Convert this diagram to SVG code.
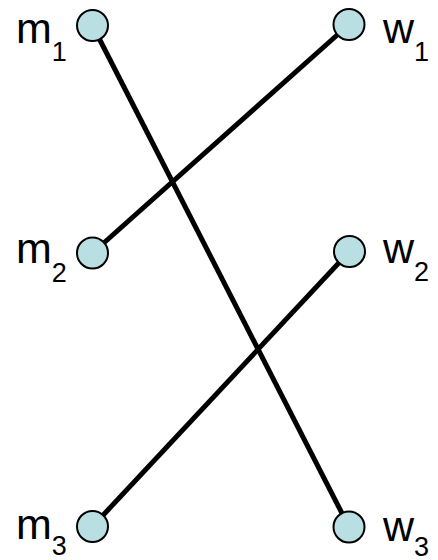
<svg xmlns="http://www.w3.org/2000/svg" width="438" height="560" viewBox="0 0 438 560">
<style>
.node circle{fill:#b9dfe3;stroke:#000;stroke-width:2}
.lbl{font-family:"Liberation Sans",Arial,sans-serif;font-size:43px;fill:#000}
.sub{font-size:27px}
.edge{stroke:#000;stroke-width:5;stroke-linecap:butt}
</style>
<rect width="438" height="560" fill="#fff"/>
<g id="connectors">
<line class="edge" x1="92.5" y1="25.5" x2="349" y2="527"/>
<line class="edge" x1="349" y1="24.5" x2="92.5" y2="253"/>
<line class="edge" x1="349.5" y1="251.5" x2="92.5" y2="526.5"/>
</g>
<g id="m1" class="node"><circle cx="92.5" cy="25.5" r="15.5"/><text class="lbl" x="16" y="43">m<tspan class="sub" dy="18">1</tspan></text></g>
<g id="m2" class="node"><circle cx="92.5" cy="253" r="15.5"/><text class="lbl" x="16" y="263">m<tspan class="sub" dy="19">2</tspan></text></g>
<g id="m3" class="node"><circle cx="92.5" cy="526.5" r="15.5"/><text class="lbl" x="16" y="539">m<tspan class="sub" dy="16">3</tspan></text></g>
<g id="w1" class="node"><circle cx="349" cy="24.5" r="15.5"/><text class="lbl" x="383" y="43">w<tspan class="sub" dy="18">1</tspan></text></g>
<g id="w2" class="node"><circle cx="349.5" cy="251.5" r="15.5"/><text class="lbl" x="383" y="263">w<tspan class="sub" dy="18">2</tspan></text></g>
<g id="w3" class="node"><circle cx="349" cy="527" r="15.5"/><text class="lbl" x="383" y="541">w<tspan class="sub" dy="15">3</tspan></text></g>
</svg>
